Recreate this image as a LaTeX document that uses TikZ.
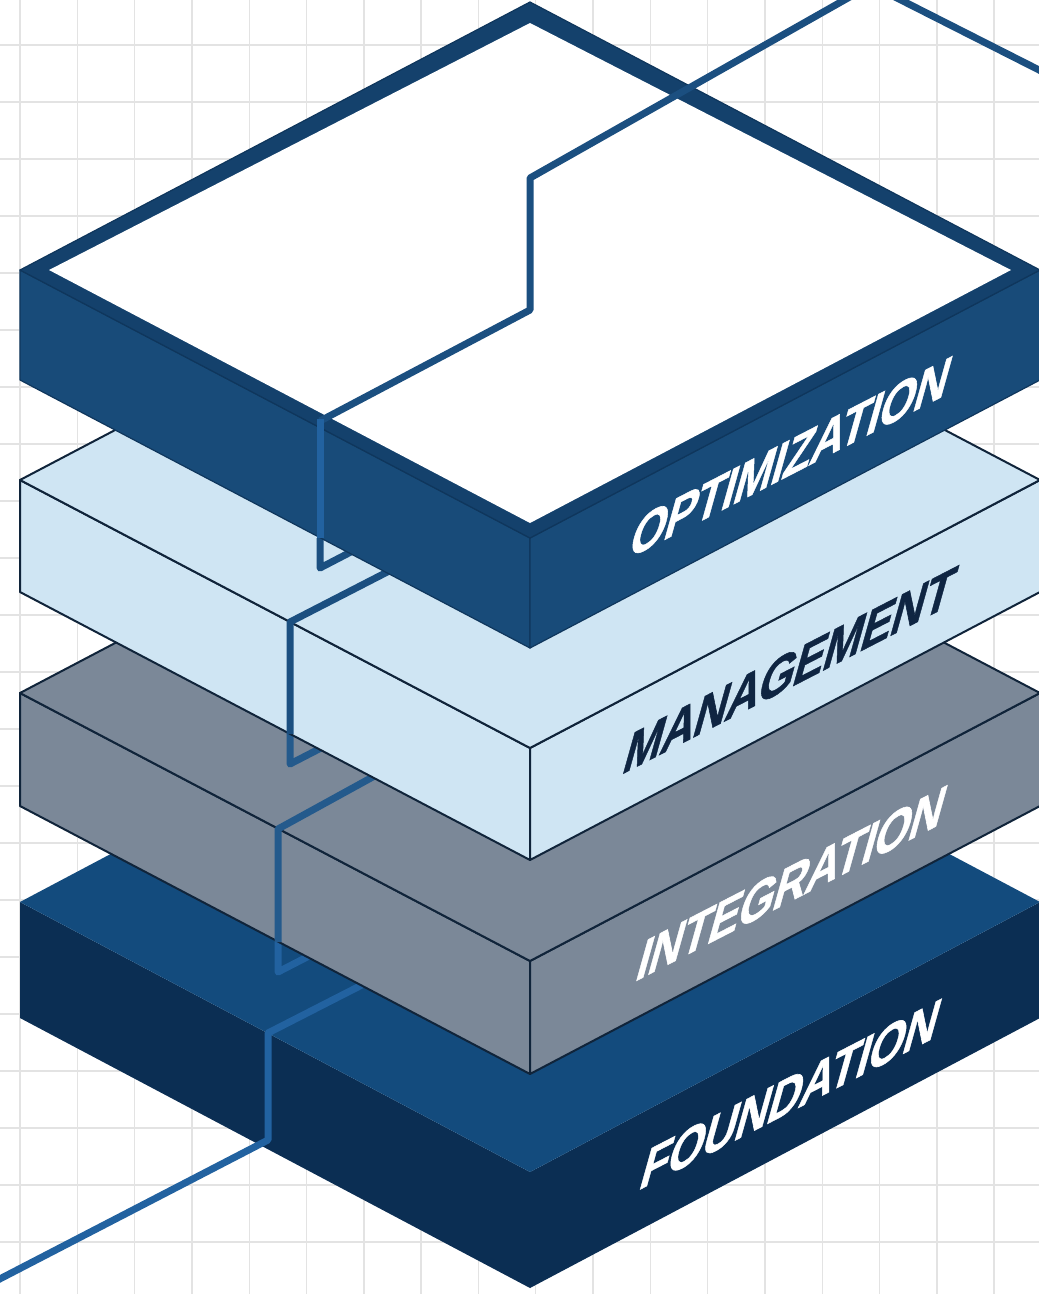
\documentclass[tikz,border=0pt]{standalone}
\usepackage{fontspec}
\setmainfont{Liberation Sans}
\definecolor{gridc}{HTML}{E3E3E3}
\definecolor{optside}{HTML}{184B79}
\definecolor{optborder}{HTML}{14416C}
\definecolor{optedge}{HTML}{0F365C}
\definecolor{mgmt}{HTML}{CFE5F3}
\definecolor{integ}{HTML}{7B8898}
\definecolor{fndtop}{HTML}{134B7D}
\definecolor{fndside}{HTML}{0B2E53}
\definecolor{edgec}{HTML}{10243A}
\definecolor{wiredark}{HTML}{1B4F80}
\definecolor{wiregray}{HTML}{245A8C}
\definecolor{wirelight}{HTML}{2262A0}
\definecolor{mgmttext}{HTML}{0F2542}
\newcommand\slabfaces[7]{%
  \filldraw[#7,fill=#5] (20,#1) -- (530,#2) -- (530,#2+#3) -- (20,#1+#3) -- cycle;
  \filldraw[#7,fill=#6] (530,#2) -- (1040,#1) -- (1040,#1+#3) -- (530,#2+#3) -- cycle;
  \filldraw[#7,fill=#4] (20,#1) -- (530,2*#1-#2) -- (1040,#1) -- (530,#2) -- cycle;
}
\begin{document}
\begin{tikzpicture}[x=1pt,y=-1pt,
  wire/.style={line width=7pt,line join=round},
  facetext/.style={inner sep=0pt,
    font=\bfseries\fontsize{60}{60}\selectfont\addfontfeature{LetterSpace=-2,FakeBold=1},
    cm={0.77,0.397,0.28,1,(0,0)}},
  edged/.style={draw=edgec,line width=2pt,line join=round}]
\useasboundingbox (0,0) rectangle (1039,1294);
\clip (0,0) rectangle (1039,1294);
\fill[white] (0,0) rectangle (1039,1294);
% grid
\foreach \i in {0,...,18} \draw[gridc,line width=1.4pt] ({20+57.3*\i},0) -- ({20+57.3*\i},1294);
\foreach \j in {0,...,21} \draw[gridc,line width=1.4pt] (0,{45+57*\j}) -- (1039,{45+57*\j});
% extra line top right
\draw[wire,wiredark] (893,-4) -- (1045,73);
% ---------- FOUNDATION ----------
\slabfaces{902}{1172}{116}{fndtop}{fndside}{fndside}{draw=none}
\draw[wire,wirelight] (278,942) -- (278,972) -- (340,940);
\draw[wire,wirelight] (440,945) -- (268,1033) -- (268,1140) -- (-10,1284);
\node[facetext,white] at (791,1094) {FOUNDATION};
% ---------- INTEGRATION ----------
\slabfaces{693}{961}{113}{integ}{integ}{integ}{edged}
\draw[wire,wiregray] (290,734) -- (290,764) -- (350,733);
\draw[wire,wiregray] (440,740) -- (278,829) -- (278,942);
\node[facetext,white] at (792,883) {INTEGRATION};
% ---------- MANAGEMENT ----------
\slabfaces{480}{748}{112}{mgmt}{mgmt}{mgmt}{edged}
\draw[wire,wiredark] (320,538) -- (320,568) -- (370,542);
\draw[wire,wiredark] (430,550) -- (290,622) -- (290,734);
\node[facetext,mgmttext] at (790,670) {MANAGEMENT};
% ---------- OPTIMIZATION ----------
\slabfaces{270}{538}{110}{optborder}{optside}{optside}{draw=optedge,line width=1.2pt,line join=round}
\fill[white] (49,270) -- (530,23) -- (1011,270) -- (530,523) -- cycle;
\draw[wire,wiredark] (855,-6) -- (530,178) -- (530,310) -- (320,421);
\draw[wire,wirelight] (320,419) -- (320,538);
\node[facetext,white] at (791,457) {OPTIMIZATION};
\end{tikzpicture}
\end{document}
